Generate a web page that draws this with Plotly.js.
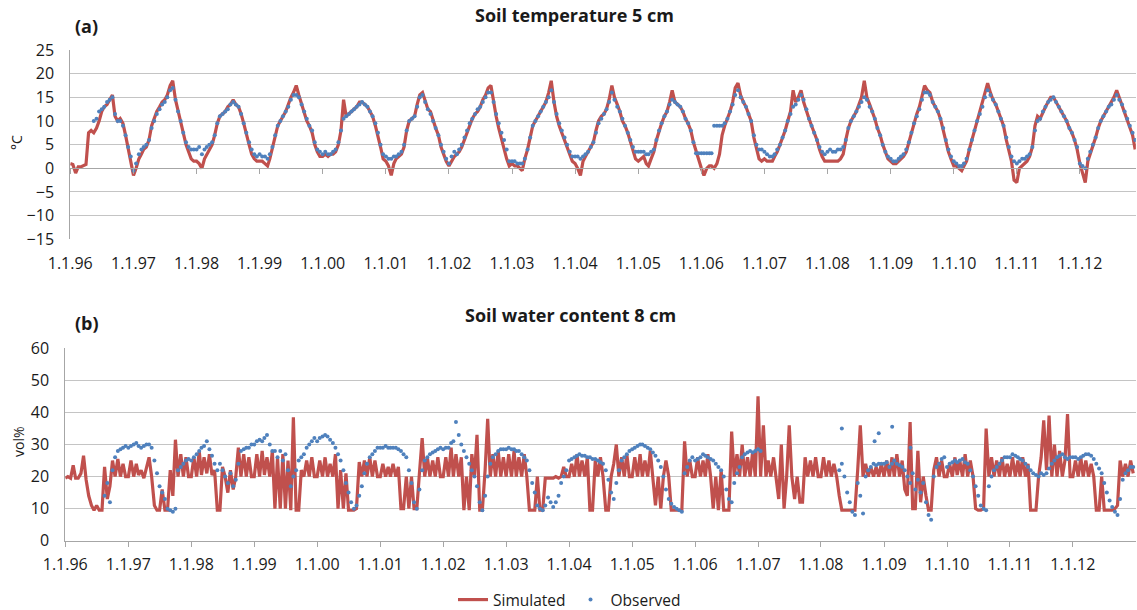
<!DOCTYPE html>
<html>
<head>
<meta charset="utf-8">
<script src="https://cdn.plot.ly/plotly-3.0.1.min.js"></script>
<style>html,body{margin:0;padding:0;background:#fff;}#chart{width:1137px;height:610px;}</style>
</head>
<body>
<div id="chart"></div>
<script>
// ---- Data (semi-monthly samples: 1st and 16th of each month, starting 1 Jan 1996) ----
const startYear = 1996;
const yearTickLabels = ['1.1.96','1.1.97','1.1.98','1.1.99','1.1.00','1.1.01','1.1.02','1.1.03','1.1.04','1.1.05','1.1.06','1.1.07','1.1.08','1.1.09','1.1.10','1.1.11','1.1.12'];

// Soil temperature 5 cm, simulated (°C)
const tempSim = [
 1,0.8,-1,0.3,0.3,0.5,0.8,7.5,8,7.5,8.5,10,12,13,13.5,14.5,15.5,11,10,10.5,9.5,7,4,1.5,
 -1.5,0,2,3,4,4.5,6,9,10.5,12,13,14,14.5,15.5,17.5,18.5,14.5,12,10,7.5,5,3.5,2,1.5,
 1.5,1,0,2,3,4,5,7,9.5,11,11.5,12,13,13.5,14.5,13.5,13,11.5,9.5,7,5,3,2,1.5,
 1.5,1.5,1,0.5,2,4.5,7,9,10,11,12,13.5,15,16,17.5,15.5,13.5,12,10,9,7.5,5,3.5,2.5,
 2.5,3,2.5,3,3,3.5,5,8,14.5,11,11.5,12,12.5,13,14,14,13.5,13,12,11,9,7,4.5,2,
 1.5,0.5,-1.5,1,2,2.5,3,4.5,8,10,10.5,11,13.5,15.5,16,14,12.5,12,10,8.5,7,4.5,3,1.5,
 0.5,1.5,2.5,3,3.5,4.5,6,7.5,9,10.5,11.5,12,13,14.5,15.5,17,17.5,14,11,8.5,6,4,2,0.5,
 1,0.5,0.5,0,-0.5,2,4,6.5,9,10,11,12,13,14,16,18.5,14,11,9,7.5,6,4.5,3,1.5,
 1,0,-1.5,1.5,2.5,3.5,4.5,5.5,8,10,11,11.5,12.5,14.5,17.5,15,13.5,12,10,9,7.5,5.5,4,2,
 1.5,2,2.5,1,0.5,2,3.5,6,8,9.5,11,12,14,16.5,14,13.5,13,12,10.5,9.5,8,5.5,3.5,2,
 0,-1.5,0,0.5,0.5,0,1,3,7,9,10.5,12,14,17,18,15.5,14,13,11.5,10,6.5,4,2,1.5,
 2,1.5,1.5,1.5,2.5,3.5,5,6.5,8,10,12,16.5,14,15,16.5,14,12,10.5,9,7.5,6,4,2.5,1.5,
 1.5,1.5,1.5,1.5,1.5,2,3,6,8.5,10,11,12,13.5,15,18.5,15,13.5,12,10.5,8.5,7,5,3.5,2,
 1.5,1,1,1.5,2,2.5,3.5,5.5,8,10,11.5,13,15.5,17.5,16.5,16,14,13,12,10.5,8,5.5,3.5,2,
 0.5,0.5,0,-0.5,0.5,1.5,4,6,8,10,12,14,16,18,16,14.5,13.5,12,10.5,9,6,4,1.5,-2.5,
 -3,0,0.5,1,1.5,2.5,4.5,9,11,10.5,12,13,14,15,15,14,13,12,11,10,8.5,7.5,6,4,
 1,-1,-3,1.5,3,5,6.5,8.5,10,11,12,13,14,15,16.5,15,13.5,12,10.5,9,7,4
];

// Soil temperature 5 cm, observed (°C)
const tempObs = [
 null,null,null,null,null,null,null,null,null,10,10.5,12,12.5,13,14,14.5,15,11.5,10,10,9,7,4.5,2.5,
 -0.5,1,3,4,4.5,5,6,8.5,10,11.5,12.5,13.5,14,15,16.5,17,14.5,12,10,7.5,5.5,4.5,4,4,
 4,4.5,3,4,4.5,5,5.5,7,9.5,11,11.5,12,12.5,13.5,14,13.5,13,11.5,9.5,7.5,5.5,4,3,2.5,
 3,2.5,2.5,2,3,4.5,7,9,10,11,12,13,14.5,15.5,15.5,15,13.5,12,10.5,9,8,5.5,4,3.5,
 3,3.5,3,3,3.5,4,5.5,8,10.5,11,11.5,12,12.5,13,13.5,14,13.5,13,12,11,9.5,7.5,5,3,
 2.5,2,2,2.5,2.5,3,3.5,5,8,10,10.5,11,13,15,15.5,14,12.5,11.5,10,8.5,7,5,3.5,2,
 1,2.5,3.5,3,4,5,6.5,8,9.5,10.5,11.5,12.5,13,14,15,16,16,14,11.5,9.5,7.5,6,4,1.5,
 1.5,1.5,1,1,1,2,4,6.5,9,10,11,12,13,14,15,16.5,14,11.5,9.5,8,6.5,5,3.5,2.5,
 2.5,2.5,2,2.5,3,3.5,4.5,5.5,7.5,9.5,10.5,11.5,12.5,14,16,14.5,13,12,10.5,9,7.5,6,4.5,3.5,
 3.5,3.5,3.5,3,3,3.5,4,6,8,9.5,11,12,13.5,14.5,14,13.5,13,12,10.5,9.5,8,5.5,3.2,3.2,
 3.2,3.2,3.2,3.2,3.2,9,9,9,9,9.5,10.5,12,13.5,15.5,16.5,15,14,13,11.5,10,7,5,4,4,
 3.5,3,2.5,2.5,3,4,5,6.5,8,10,11.5,13,13.5,14.5,15.5,14.5,12.5,10.5,9,7.5,6,4.5,3.5,3,
 3.5,4,3.5,3.5,4,4,4.5,6,8.5,10,11,12,13,14,15,14.5,13,12,10.5,8.5,7,5,3.5,2.5,
 2,1.5,1.5,2,2.5,3,4,5.5,7.5,9.5,11,12.5,14.5,16,16,15.5,14,13,12,10.5,8.5,6,4,2.5,
 1.5,1,0.5,0.5,1,2,4,6,8,10,11.5,13,15,16.5,15.5,14.5,13.5,12,10.5,9,6.5,4.5,2.5,1.5,
 1,1.5,2,2,2.5,3,4.5,8,10,10.5,12,13,14,14.5,15,14,13,12,11,10,8.5,7.5,6,4.5,
 1,0.5,0,2,3.5,5,6.5,8.5,10,11,12,13,13.5,14.5,15.5,14.5,13.5,12,10.5,9,7.5,6
];

// Soil water content 8 cm, simulated (vol%)
const waterSim = [
 19.5,20,19.5,23.5,19.5,19.5,21,26.5,19,14,11,9.5,11,9.5,9.5,23,13,17,25,20,25.5,20,24,20,
 20,25,20,24,20.5,22,19.5,23,26,20,11,9.5,9.5,16,9.5,9.5,22,14,31.5,20,27,20,26,20,
 20,26,20,28,20.5,26,21,27,20.5,22,9.5,9.5,23,20,15,22,16,20,29,20,27,20,26,20,
 20,27,20,28,20.5,26,20,28,10,26,10,27,10,25,9.5,38.5,9.5,9.5,22,20,25,20,26,20,
 20,25,20,26,20,24,20,27,10,22,10,21,9.5,9.5,9.5,10,24.5,20,25,20,26,20,25,20,
 20,24,20,23,20,24,20,23,10,10,20,10,20,10,10,21,32,20,26,20,25,20,26,20,
 20,26,20,29,20,27,20,26,9.5,20,9.5,27,20,33,9.5,9.5,22,38,20,27,20,28,20,26,
 20,27,20,28,20,26,20,27,20,9.5,9.5,9.5,20,9.5,9.5,19.5,19.5,19.5,19.5,20,19.5,20,23,20,
 20,24,20,27,20,25,20,26,9.5,9.5,25,20,26,20,9.5,9.5,20,24,30,20,26,20,27,20,
 20,26,20,27,20,25,20,28,20,11,20,10,20,25,20,9.5,9.5,9.5,9.5,9.5,31,20,25,20,
 20,26,20,25,20,27,20,10,20,9.5,22,9.5,9.5,9.5,34,20,27,20,30,20,26,20,28,20,
 45,20,36,20,25,20,26,20,13,30,10,20,36,20,13,20,12,12,26,20,25,20,26,20,
 20,26,20,25,20,24,20,14,9.5,9.5,9.5,9.5,9.5,9.5,22,36,20,24,20,23,20,23,20,24,
 20,25,20,26,20,27,20,25,16,14,37,10,10,28,12,20,14,9.5,9.5,22,26,20,25,20,
 20,24,20,26,20.5,25,20,27,20,25,20,10,9.5,9.5,10,35,20,26,20,25,20,26,20,24,
 20,26,20,25,20,26,20,24,9.5,9.5,9.5,20,26,37.5,22,39,20,30,20,28,20,25,39.5,20,
 20,25,20,26,20,25,20,24,20,9.5,9.5,20,9.5,9.5,9.5,9.5,10,11,25,20,24,20,25,21
];

// Soil water content 8 cm, observed (vol%)
const waterObs = [
 null,null,null,null,null,null,null,null,null,null,null,null,null,null,null,14,18,12,22,26,28,28.5,29,29.5,
 29,29.5,30,30.5,29.5,29,29.5,30,30,29,25,21,17,15,13,10,9.5,9,10,22,23,24,25,25.5,
 25,26,27,28,29,29.5,31,28.5,26.5,24,22,24,22,20,18,21,17,19,24,28,28.5,29,29,30,
 30,31,31.5,31,32,33,30,28,28,26,28,25,27,22,17,20,22,25,26,27,29,30,31,32,
 31,32,32.5,33,32.5,31.5,30.5,29,27,25,22,18,15,12,10,11,14,17,21,24,26,27,28,29,
 29,29,29.5,29,29,29,29,28.5,28,27,26,22,18,12,10,16,22,25,26,27,27.5,28,28.5,29,
 28.5,29,29,30.5,31,37,33,30,28,26,24,22,20,17,12,9.5,14,20,24,26,27,28,28.5,28.5,
 28.5,29,28.5,28.5,28,28,27,26,25,22,18,15,11,10,9.5,11,13.5,12,10.5,12,14,18,20,22,
 25,25.5,26,26.5,27,26.5,26.5,26,26,25.5,25.5,25,24.5,24,22,19,15,13,18,22,25,26,27,28,
 28.5,29,29.5,30,30,29.5,29,28.5,27.5,26.5,25,23,20,16,13,11.5,10.5,10,9.5,9,21,23,25,26,
 25,25.5,26,27,26.5,26,25.5,25,24,23,22,20,16,13,12,18,21,23,26,27,27.5,28,27.5,28,
 28.5,28,null,null,null,null,null,null,null,null,null,null,null,null,null,null,null,null,null,null,null,null,null,null,
 null,null,null,null,null,null,null,22,24,20,15,12,9,8,18,14,8.5,20,22,23,24,23.5,24,24,
 24,24.5,23,24,25,24,23.5,23,22,20,18,21,16,19,15,18,12,8,6.5,20,23,24,25.5,26,
 23,24,24.5,25,24.5,25,25.5,24.5,24,22,20,17,14,11,10,9.5,17,20,22,23,24,25,26,26,
 26,27,26.5,26,25.5,25,24,23,22,21,20.5,20,21,20.5,21,22.5,24,25,26,26.5,27,26,25.5,26,
 26,26,25.5,26,26.5,27,27,26.5,25.5,24,22.5,21,18,15,12.5,10.5,9,8,13,19,21,22,23,23
];

// scattered high observed readings 2008-2009
const waterObsExtraDates = ['2008-05-01','2008-11-07','2008-12-01','2009-02-17','2009-06-03'];
const waterObsExtraValues = [35, 31, 33.5, 35.5, 29];

// ---- build date index ----
function semiMonthDates(y0, n) {
  const out = [];
  for (let i = 0; i < n; i++) {
    const y = y0 + Math.floor(i / 24);
    const m = Math.floor((i % 24) / 2) + 1;
    const d = (i % 2) ? 16 : 1;
    out.push(y + '-' + String(m).padStart(2, '0') + '-' + String(d).padStart(2, '0'));
  }
  return out;
}
const tempDates = semiMonthDates(startYear, tempSim.length);
const waterDates = semiMonthDates(startYear, waterSim.length);
const tickDates = yearTickLabels.map((_, i) => (startYear + i) + '-01-01');

const RED = '#c0504d', BLUE = '#4f81bd';
const GRID = '#c4c4c4', AXIS = '#a6a6a6', TXT = '#1a1a1a';
const FONT = 'Open Sans, Liberation Sans, sans-serif';

const traces = [
  {x: tempDates, y: tempSim, xaxis: 'x', yaxis: 'y', mode: 'lines', name: 'Simulated',
   line: {color: RED, width: 3.2}, hoverinfo: 'skip'},
  {x: tempDates, y: tempObs, xaxis: 'x', yaxis: 'y', mode: 'markers', name: 'Observed',
   marker: {color: BLUE, size: 4}, hoverinfo: 'skip'},
  {x: waterDates, y: waterSim, xaxis: 'x2', yaxis: 'y2', mode: 'lines', name: 'Simulated',
   line: {color: RED, width: 3.2}, showlegend: false, hoverinfo: 'skip'},
  {x: waterDates, y: waterObs, xaxis: 'x2', yaxis: 'y2', mode: 'markers', name: 'Observed',
   marker: {color: BLUE, size: 4}, showlegend: false, hoverinfo: 'skip'},
  {x: waterObsExtraDates, y: waterObsExtraValues, xaxis: 'x2', yaxis: 'y2', mode: 'markers', name: 'Observed',
   marker: {color: BLUE, size: 4}, showlegend: false, hoverinfo: 'skip'}
];

const yZeroTop = (610 - 168.3) / 610;
function ann(text, px, py, size, angle) {
  return {text: text, x: px / 1137, y: (610 - py) / 610, xref: 'paper', yref: 'paper',
          xanchor: 'center', yanchor: 'middle', showarrow: false, textangle: angle || 0,
          font: {size: size, color: TXT}};
}
const layout = {
  width: 1137, height: 610,
  margin: {l: 0, r: 0, t: 0, b: 0, autoexpand: false},
  paper_bgcolor: '#fff', plot_bgcolor: '#fff',
  font: {family: FONT, color: TXT, size: 16},
  showlegend: true,
  legend: {orientation: 'h', x: 453 / 1137, xanchor: 'left', y: (610 - 600) / 610, yanchor: 'middle',
           font: {size: 15.5, color: TXT}, bgcolor: 'rgba(0,0,0,0)', itemwidth: 30},
  xaxis: {domain: [0.0618, 0.999], anchor: 'free', position: yZeroTop, type: 'date',
          range: ['1996-01-01', '2012-11-20'], tickvals: tickDates, ticktext: yearTickLabels,
          ticks: 'outside', ticklen: 5, tickcolor: AXIS, showline: true, linecolor: AXIS, linewidth: 1,
          showgrid: false, zeroline: false, ticklabelstandoff: 75, tickfont: {size: 16, color: TXT}},
  yaxis: {domain: [0.6077, 0.918], anchor: 'x', range: [-15, 25], dtick: 5, tick0: 0,
          showgrid: true, gridcolor: GRID, gridwidth: 1, showline: true, linecolor: AXIS,
          zeroline: false, ticklabelstandoff: 12, tickfont: {size: 16, color: TXT}},
  xaxis2: {domain: [0.0574, 0.9991], anchor: 'y2', type: 'date',
           range: ['1996-01-01', '2013-01-01'], tickvals: tickDates, ticktext: yearTickLabels,
           ticks: 'outside', ticklen: 5, tickcolor: AXIS, showline: true, linecolor: AXIS,
           showgrid: false, zeroline: false, ticklabelstandoff: 4, tickfont: {size: 16, color: TXT}},
  yaxis2: {domain: [0.1136, 0.429], anchor: 'x2', range: [0, 60], dtick: 10,
           showgrid: true, gridcolor: GRID, gridwidth: 1, showline: true, linecolor: AXIS,
           zeroline: false, ticklabelstandoff: 12, tickfont: {size: 16, color: TXT}},
  annotations: [
    ann('<b>(a)</b>', 86.5, 26, 18),
    ann('<b>Soil temperature 5 cm</b>', 574.5, 15, 18),
    ann('<b>(b)</b>', 86.5, 323, 18),
    ann('<b>Soil water content 8 cm</b>', 570, 315, 18),
    ann('°C', 17, 143, 14, -90),
    ann('vol%', 18, 442, 14, -90)
  ]
};

Plotly.newPlot('chart', traces, layout, {staticPlot: true, displayModeBar: false});
</script>
</body>
</html>
